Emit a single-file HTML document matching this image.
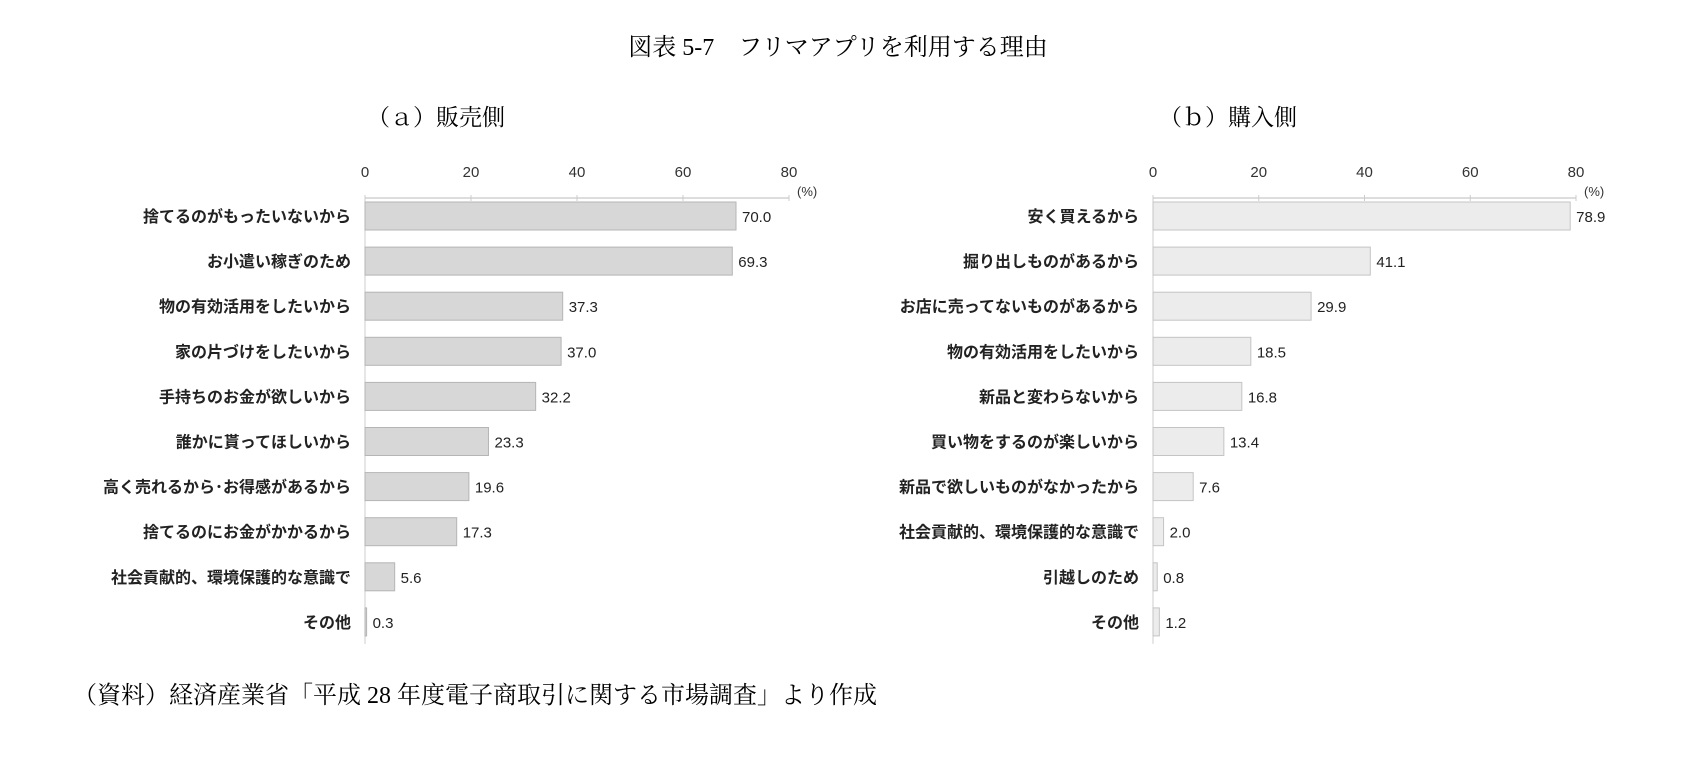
<!DOCTYPE html>
<html><head><meta charset="utf-8"><style>
body{margin:0;background:#fff;width:1686px;height:757px;overflow:hidden}
svg text{font-family:"Liberation Sans","Noto Sans CJK JP",sans-serif}
.serif{font-family:"Liberation Serif","Noto Serif CJK SC",serif}
</style></head><body>
<svg width="1686" height="757" xmlns="http://www.w3.org/2000/svg" id="svg">
<text class="serif" x="838" y="55" font-size="24" text-anchor="middle" style="font-family:'Liberation Serif','Noto Serif CJK SC',serif">図表 5-7　フリマアプリを利用する理由</text>
<text x="367" y="125" font-size="23" style="font-family:'Liberation Serif','Noto Serif CJK SC',serif">（ａ）販売側</text>
<text x="1159" y="125" font-size="23" style="font-family:'Liberation Serif','Noto Serif CJK SC',serif">（ｂ）購入側</text>
<text x="73" y="703" font-size="24" style="font-family:'Liberation Serif','Noto Serif CJK SC',serif">（資料）経済産業省「平成 28 年度電子商取引に関する市場調査」より作成</text>
<g id="ga"></g>
<g id="gb"></g>
</svg>
<script>
const catsA=["捨てるのがもったいないから","お小遣い稼ぎのため","物の有効活用をしたいから","家の片づけをしたいから","手持ちのお金が欲しいから","誰かに貰ってほしいから","高く売れるから･お得感があるから","捨てるのにお金がかかるから","社会貢献的、環境保護的な意識で","その他"];
const valsA=[70.0,69.3,37.3,37.0,32.2,23.3,19.6,17.3,5.6,0.3];
const catsB=["安く買えるから","掘り出しものがあるから","お店に売ってないものがあるから","物の有効活用をしたいから","新品と変わらないから","買い物をするのが楽しいから","新品で欲しいものがなかったから","社会貢献的、環境保護的な意識で","引越しのため","その他"];
const valsB=[78.9,41.1,29.9,18.5,16.8,13.4,7.6,2.0,0.8,1.2];
const ticks=[0,20,40,60,80];
const NS="http://www.w3.org/2000/svg";
function mk(p,t,a){const e=document.createElementNS(NS,t);for(const k in a)e.setAttribute(k,a[k]);p.appendChild(e);return e;}
function draw(g,cats,vals,x0,x80,fill,stroke){
  const xs=v=>x0+(x80-x0)*v/80;
  const axisY=198,rowH=45.1,top=axisY;
  const ys=i=>216+i*rowH;
  const ax=mk(g,'line',{x1:x0,x2:x80,y1:axisY,y2:axisY,stroke:'#bbb'});
  
  
  const ay=mk(g,'line',{x1:x0,x2:x0,y1:axisY,y2:ys(cats.length-1)+22,stroke:'#ccc'});
  
  
  ticks.forEach(t=>{
    const tl=mk(g,'text',{x:xs(t),y:177,'font-size':15,'text-anchor':'middle',fill:'#333'});tl.textContent=t;
    
    
    const tk=mk(g,'line',{x1:xs(t),x2:xs(t),y1:axisY-3,y2:axisY+3,stroke:'#ccc'});
    
    
  });
  const u=mk(g,'text',{x:x80+8,y:196,'font-size':13,fill:'#333'});u.textContent='(%)';
  
  
  cats.forEach((c,i)=>{
    const y=ys(i);
    const r=mk(g,'rect',{x:x0,y:y-14,width:Math.max(xs(vals[i])-x0,1),height:28,fill:fill,stroke:stroke});
    
    
    const l=mk(g,'text',{x:x0-14,y:y+6,'font-size':16,'font-weight':'bold','text-anchor':'end',fill:'#222'});l.textContent=c;
    
    
    const v=mk(g,'text',{x:xs(vals[i])+6,y:y+6,'font-size':15,fill:'#222'});v.textContent=vals[i].toFixed(1);
    
    
  });
}
draw(document.getElementById('ga'),catsA,valsA,365,789,'#d7d7d7','#b5b5b5');
draw(document.getElementById('gb'),catsB,valsB,1153,1576,'#ececec','#c4c4c4');
</script>
</body></html>
